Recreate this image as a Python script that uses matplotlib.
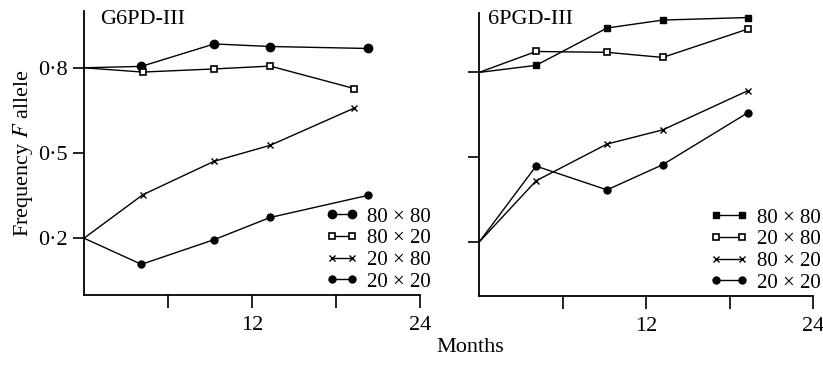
import matplotlib
matplotlib.use('Agg')
import matplotlib.pyplot as plt

plt.rcParams['font.family'] = ['Liberation Serif', 'DejaVu Serif']
plt.rcParams['mathtext.fontset'] = 'stix'

# months sampled
months = [0, 4.1, 9.3, 13.3, 20.3]
months_b = [0, 4.2, 9.3, 13.3, 19.3]

# G6PD-III
g6_80x80 = [0.80, 0.805, 0.884, 0.875, 0.868]
g6_80x20 = [0.80, 0.785, 0.796, 0.806, 0.727]
g6_20x80 = [0.20, 0.353, 0.471, 0.527, 0.658]
g6_20x20 = [0.20, 0.108, 0.195, 0.273, 0.351]

# 6PGD-III
months_r = [0, 4.1, 9.2, 13.2, 19.3]
pg_80x80 = [0.80, 0.825, 0.957, 0.985, 0.994]
pg_20x80 = [0.80, 0.874, 0.871, 0.853, 0.953]
pg_80x20 = [0.20, 0.417, 0.547, 0.597, 0.735]
pg_20x20 = [0.20, 0.469, 0.385, 0.474, 0.657]

yticks = [0.2, 0.5, 0.8]
ytick_labels = ['0·2', '0·5', '0·8']
xticks = [6, 12, 18, 24]
xtick_labels = ['', '12', '', '24']

W, H = 823, 366
fig = plt.figure(figsize=(W / 100, H / 100), dpi=100)
ax1 = fig.add_axes([84 / W, 71 / H, 336 / W, 284 / H])
ax2 = fig.add_axes([479 / W, 70 / H, 334 / W, 283 / H])

lw = 1.0
skip0 = slice(1, None)  # no marker at the common starting point
filled = dict(color='black', lw=lw, mfc='black', mec='black', markevery=skip0)
opened = dict(color='black', lw=lw, mfc='white', mec='black', mew=1.2, markevery=skip0)
crossed = dict(color='black', lw=lw, mew=1.0, markevery=skip0)

ax1.plot(months, g6_80x80, marker='o', ms=6, label='80 × 80', **filled)
ax1.plot(months_b, g6_80x20, marker='s', ms=5, label='80 × 20', **opened)
ax1.plot(months_b, g6_20x80, marker='x', ms=5, label='20 × 80', **crossed)
ax1.plot(months, g6_20x20, marker='o', ms=5, label='20 × 20', **filled)

ax2.plot(months_r, pg_80x80, marker='s', ms=5, label='80 × 80', **filled)
ax2.plot(months_r, pg_20x80, marker='s', ms=5, label='20 × 80', **opened)
ax2.plot(months_r, pg_80x20, marker='x', ms=5, label='80 × 20', **crossed)
ax2.plot(months_r, pg_20x20, marker='o', ms=5, label='20 × 20', **filled)

for ax in (ax1, ax2):
    ax.set_xlim(0, 24)
    for s in ('top', 'right'):
        ax.spines[s].set_visible(False)
    for s in ('left', 'bottom'):
        ax.spines[s].set_linewidth(1.3)
    ax.set_xticks(xticks)
    ax.set_xticklabels(xtick_labels)
    ax.set_yticks(yticks)
    ax.tick_params(axis='x', direction='out', length=9, width=1.2, pad=6, labelsize=16)
    ax.tick_params(axis='y', direction='out', length=8, width=1.2, pad=4, labelsize=16)
    ax.patch.set_visible(False)

ax1.set_ylim(0, 1.0)
ax2.set_ylim(0.01, 1.01)
ax1.set_yticklabels(ytick_labels)
ax2.set_yticklabels([])

ax1.set_ylabel('Frequency $F$ allele', fontsize=16, labelpad=2)

fig.text(100 / W, 1 - 20 / H, 'G6PD-III', fontsize=16, ha='left', va='center')
fig.text(488 / W, 1 - 20 / H, '6PGD-III', fontsize=16, ha='left', va='center')
fig.text(470 / W, 1 - 347 / H, 'Months', fontsize=16, ha='center', va='center')

leg_kw = dict(frameon=False, fontsize=15, numpoints=2, borderpad=0, borderaxespad=0,
              handletextpad=0.4, labelspacing=0.1, loc='upper left')
ax1.legend(bbox_to_anchor=(326 / W, 1 - 207 / H), bbox_transform=fig.transFigure,
           handlelength=1.55, **leg_kw)
ax2.legend(bbox_to_anchor=(710 / W, 1 - 208 / H), bbox_transform=fig.transFigure,
           handlelength=1.85, **leg_kw)

fig.savefig('out.png', dpi=100)
